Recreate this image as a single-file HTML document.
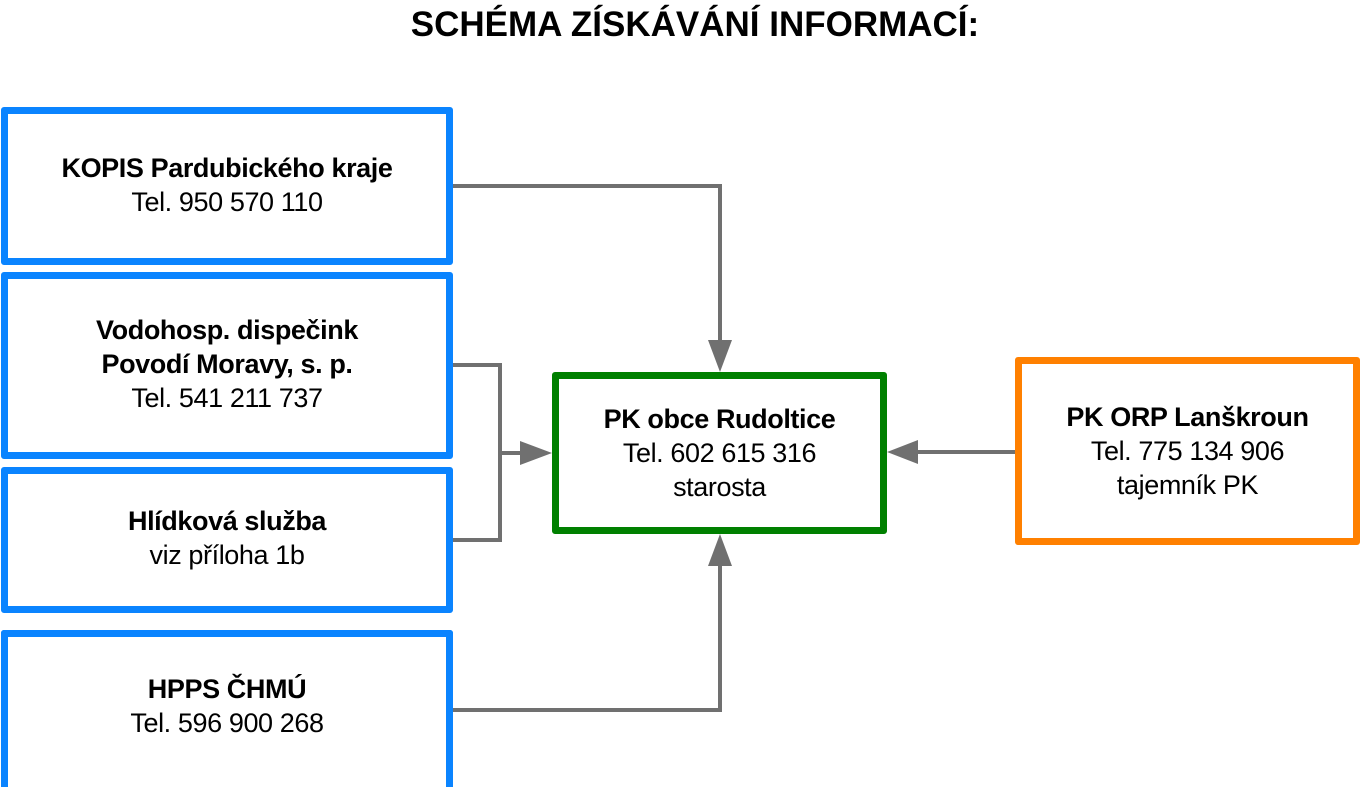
<!DOCTYPE html>
<html><head><meta charset="utf-8"><style>
html,body{margin:0;width:1360px;height:787px;overflow:hidden}
body{background:#fff;position:relative;font-family:"Liberation Sans",sans-serif;}
.b{position:absolute;box-sizing:border-box;border:7px solid #0a84ff;border-radius:3px;display:flex;flex-direction:column;justify-content:center;align-items:center;text-align:center;font-size:27px;line-height:34px;color:#000;letter-spacing:-0.4px}
.b b{font-weight:bold}
h1{position:absolute;top:5px;left:0;width:1390px;text-align:center;margin:0;font-size:35px;font-weight:bold;letter-spacing:0}
svg{position:absolute;left:0;top:0}
</style></head><body>
<h1>SCHÉMA ZÍSKÁVÁNÍ INFORMACÍ:</h1>
<svg width="1360" height="787">
<g stroke="#707070" stroke-width="4" fill="none">
<polyline points="452,186 720,186 720,345"/>
<polyline points="452,365 500,365 500,540 452,540"/>
<line x1="500" y1="453" x2="528" y2="453"/>
<polyline points="452,710 720,710 720,560"/>
<line x1="1015" y1="452" x2="912" y2="452"/>
</g>
<g fill="#707070">
<polygon points="708,340 732,340 720,372"/>
<polygon points="520,441 520,465 552,453"/>
<polygon points="708,566 732,566 720,534"/>
<polygon points="918,440 918,464 887,452"/>
</g>
</svg>
<div class="b" style="left:1px;top:107px;width:452px;height:158px;padding-bottom:3px"><b>KOPIS Pardubického kraje</b>Tel. 950 570 110</div>
<div class="b" style="left:1px;top:272px;width:452px;height:187px;padding-bottom:4px"><b>Vodohosp. dispečink</b><b>Povodí Moravy, s. p.</b>Tel. 541 211 737</div>
<div class="b" style="left:1px;top:467px;width:452px;height:146px;padding-bottom:4px"><b>Hlídková služba</b>viz příloha 1b</div>
<div class="b" style="left:1px;top:630px;width:452px;height:157px;border-bottom:none;border-radius:3px 3px 0 0;padding-bottom:12px"><b>HPPS ČHMÚ</b>Tel. 596 900 268</div>
<div class="b" style="left:552px;top:372px;width:335px;height:162px;border-color:#008000"><b>PK obce Rudoltice</b>Tel. 602 615 316<br>starosta</div>
<div class="b" style="left:1015px;top:357px;width:345px;height:188px;border-color:#ff8000"><b>PK ORP Lanškroun</b>Tel. 775 134 906<br>tajemník PK</div>
</body></html>
